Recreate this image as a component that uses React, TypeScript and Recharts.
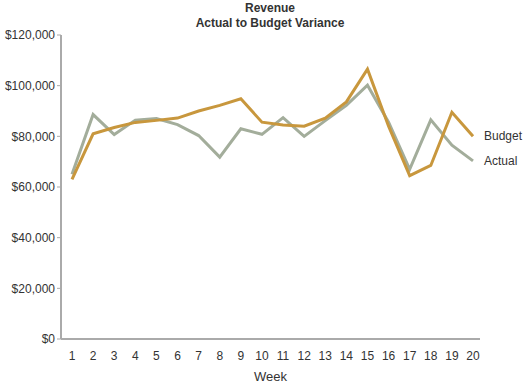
import { LineChart, Line, XAxis, YAxis } from 'recharts';

const weeks = ['1', '2', '3', '4', '5', '6', '7', '8', '9', '10', '11', '12', '13', '14', '15', '16', '17', '18', '19', '20'];
const budget = [63000, 81000, 83500, 85500, 86300, 87200, 90000, 92200, 94800, 85600, 84500, 84000, 87200, 93600, 106500, 84000, 64500, 68500, 89500, 80000];
const actual = [65000, 88600, 80700, 86400, 87000, 84600, 80300, 71800, 83000, 80800, 87400, 80000, 86200, 92200, 100200, 85600, 67000, 86500, 76500, 70300];
const yTicks = [0, 20000, 40000, 60000, 80000, 100000, 120000];

const data = weeks.map((w, i) => ({ week: w, budget: budget[i], actual: actual[i] }));

const money = (v: number) => `$${v.toLocaleString('en-US')}`;

const endLabel = (name: string) => (props: any) => {
  const { x, y, index } = props;
  if (index !== data.length - 1) return null;
  return (
    <text x={x + 11} y={y} dy={4} fontSize={12} fill="#333" fontFamily="Liberation Sans, Arial, sans-serif">
      {name}
    </text>
  );
};

export default function App() {
  return (
    <div style={{ position: 'absolute', top: 0, left: 0, width: 528, height: 385, background: '#fff', fontFamily: 'Liberation Sans, Arial, sans-serif' }}>
      <div style={{ position: 'absolute', top: 1, left: 0, width: 540, textAlign: 'center', fontSize: 12, fontWeight: 'bold', color: '#333', lineHeight: '15px' }}>
        Revenue
        <br />
        Actual to Budget Variance
      </div>
      <LineChart width={528} height={385} data={data} margin={{ top: 35, right: 48, bottom: 4, left: 0 }}>
        <XAxis
          dataKey="week"
          padding={{ left: 11, right: 7 }}
          axisLine={{ stroke: '#aaa', strokeWidth: 2 }}
          tickLine={false}
          tick={{ fontSize: 12, fill: '#333' }}
          tickMargin={6}
          interval={0}
          height={42}
          label={{ value: 'Week', position: 'insideBottom', offset: 0, fontSize: 13, fill: '#333' }}
        />
        <YAxis
          domain={[0, 120000]}
          ticks={yTicks}
          tickFormatter={money}
          width={61}
          axisLine={{ stroke: '#aaa', strokeWidth: 2 }}
          tickLine={{ stroke: '#aaa' }}
          tickSize={4}
          tick={{ fontSize: 12, fill: '#333' }}
        />
        <Line
          dataKey="actual"
          stroke="#a3ad9b"
          strokeWidth={3}
          dot={false}
          isAnimationActive={false}
          label={endLabel('Actual')}
        />
        <Line
          dataKey="budget"
          stroke="#c8973d"
          strokeWidth={3}
          dot={false}
          isAnimationActive={false}
          label={endLabel('Budget')}
        />
      </LineChart>
    </div>
  );
}
